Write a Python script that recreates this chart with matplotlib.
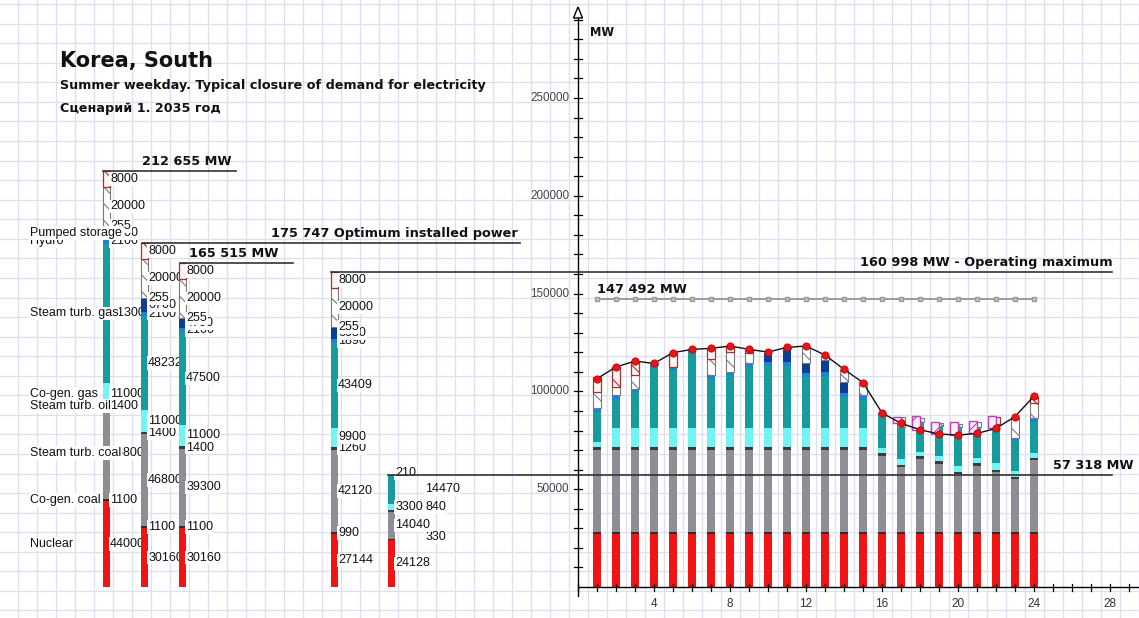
import numpy as np
import matplotlib
matplotlib.use("Agg")
import matplotlib.pyplot as plt
from matplotlib.patches import Polygon

# ------------------------------------------------------------------ data
layer_names = ["Nuclear", "Co-gen. coal", "Steam turb. coal", "Steam turb. oil",
               "Co-gen. gas", "Steam turb. gas", "Hydro", "Pumped storage",
               "Other", "Reserve", "Repair"]
shown_layer_labels = ["Nuclear", "Co-gen. coal", "Steam turb. coal", "Steam turb. oil",
                      "Co-gen. gas", "Steam turb. gas", "Hydro", "Pumped storage"]

balance_installed = [44000, 1100, 46800, 1400, 11000, 71300, 2100, 6700, 255, 20000, 8000]
balance_optimum = [30160, 1100, 46800, 1400, 11000, 48232, 2100, 6700, 255, 20000, 8000]
balance_reduced = [30160, 1100, 39300, 1400, 11000, 47500, 2100, 4700, 255, 20000, 8000]
balance_operating = [27144, 990, 42120, 1260, 9900, 43409, 1890, 6030, 255, 20000, 8000]
balance_minimum = [24128, 330, 14040, 840, 3300, 14470, 210, 0, 0, 0, 0]

ref_values = [212655, 175747, 165515, 160998, 147492, 57318]
ref_labels = ["212 655 MW", "175 747 Optimum installed power", "165 515 MW",
              "160 998 MW - Operating maximum", "147 492 MW", "57 318 MW"]

hours = np.arange(1, 25)
demand = [106500, 112500, 115500, 114300, 119800, 121500, 122000, 123200, 121500, 120100,
          122500, 123200, 118600, 111300, 104500, 89000, 83700, 80400, 78200, 77700,
          78500, 81100, 87100, 97600]
nuclear_h = [27144, 27144, 27144, 27144, 27144, 27144, 27144, 27144, 27144, 27144, 27144, 27144,
             27144, 27144, 27144, 27144, 27144, 27144, 27144, 27144, 27144, 27144, 27144, 27144]
cogen_coal_h = [990, 990, 990, 990, 990, 990, 990, 990, 990, 990, 990, 990,
                990, 990, 990, 990, 990, 990, 990, 990, 990, 990, 990, 990]
steam_coal_h = [42120, 42120, 42120, 42120, 42120, 42120, 42120, 42120, 42120, 42120, 42120, 42120,
                42120, 42120, 42120, 38900, 33200, 37400, 34900, 29600, 33800, 30600, 27000, 36800]
steam_oil_h = [1260, 1260, 1260, 1260, 1260, 1260, 1260, 1260, 1260, 1260, 1260, 1260,
               1260, 1260, 1260, 1260, 1260, 1260, 1260, 1260, 1260, 1260, 1260, 1260]
cogen_gas_h = [2700, 9900, 9900, 9900, 9900, 9900, 9900, 9900, 9900, 9900, 9900, 9900,
               9900, 9900, 9900, 2800, 2800, 2400, 2700, 2900, 2900, 3400, 2900, 2300]
steam_gas_h = [15500, 14900, 18200, 30300, 29400, 38600, 25100, 26800, 31500, 32000, 31500, 26100,
               26600, 15900, 14000, 16500, 16200, 15000, 15500, 19700, 15500, 20000, 15400, 16000]
hydro_h = [1700, 1700, 1700, 1700, 1700, 1500, 1700, 1700, 1400, 1700, 2000, 1700,
           2000, 1700, 2000, 0, 0, 0, 0, 0, 0, 0, 1700, 1700]
pumped_h = [0, 0, 0, 0, 0, 0, 0, 0, 0, 4300, 6900, 5100,
            6000, 6000, 1000, 0, 0, 0, 0, 0, 0, 0, 0, 0]
reserve_h = [8100, 4300, 6900, 1000, 0, 0, 8600, 10300, 5200, 0, 700, 8500,
             2000, 6000, 6300, 1400, 5200, 2000, 1200, 1800, 2600, 0, 10400, 8000]
repair_h = [7700, 10300, 7200, 0, 6900, 0, 4800, 2900, 1500, 0, 0, 0,
            0, 0, 0, 0, 0, 0, 0, 0, 0, 3400, 0, 3100]
pumping_load_h = [0, 0, 0, 0, 0, 0, 0, 0, 0, 0, 0, 0,
                  0, 0, 0, 0, 3400, 7000, 6000, 6500, 6300, 6400, 0, 0]
ytick_values = [50000, 100000, 150000, 200000, 250000]
xtick_values = [4, 8, 12, 16, 20, 24, 28]

# ------------------------------------------------------------------ layout helpers
W, H = 1139, 618
X0, PXH = 578.0, 19.0          # pixel of hour 0, pixels per hour
Y0, PXM = 587.0, 0.001956      # pixel of 0 MW, pixels per MW


def X(px):
    return (px - X0) / PXH


def Y(py):
    return (Y0 - py) / PXM


def DY(dpx):
    return dpx / PXM


colors = {
    "Nuclear": "#f01414",
    "Co-gen. coal": "#2e2e2e",
    "Steam turb. coal": "#8e8e94",
    "Steam turb. oil": "#3c3c3c",
    "Co-gen. gas": "#72f4f4",
    "Steam turb. gas": "#169c9c",
    "Hydro": "#1f7fe0",
    "Pumped storage": "#0c3f94",
    "Other": "#7fb2e8",
}
plt.rcParams["hatch.linewidth"] = 0.8

fig = plt.figure(figsize=(W / 100, H / 100), dpi=100)
ax = fig.add_axes([0, 0, 1, 1])
ax.set_xlim(X(0), X(W))
ax.set_ylim(Y(H), Y(0))
ax.axis("off")

# background grid
for k in range(-32, 31):
    ax.axvline(k + 0.5, color="#dedef0", lw=0.9, zorder=0)
for v in range(-12000, 300001, 10000):
    ax.axhline(v, color="#dedef0", lw=0.9, zorder=0)

lab_font = dict(family=["Liberation Sans", "DejaVu Sans"], fontsize=9, color="#111111")
bold_font = dict(family=["DejaVu Sans"], fontweight="bold", color="#111111")
white_box = dict(boxstyle="square,pad=0.06", fc="white", ec="none")


def draw_segment(ax, x, bottom, h, name, width, z):
    if h <= 0:
        return
    if name == "Reserve":
        ax.bar(x, h, width, bottom, color="white", edgecolor="#7a7a7a", hatch="\\\\",
               lw=0.8, zorder=z)
    elif name == "Repair":
        ax.bar(x, h, width, bottom, color="#fff4f4", edgecolor="#a83232", hatch="\\",
               lw=0.9, zorder=z)
    else:
        ax.bar(x, h, width, bottom, color=colors[name], lw=0, zorder=z)


# ------------------------------------------------------------------ left balance bars
balances = [balance_installed, balance_optimum, balance_reduced, balance_operating, balance_minimum]
bar_x = [-24.8, -22.8, -20.8, -12.8, -9.8]
bw = 0.35
label_shift = {4: [(0, 0), (30, -2), (0, 0), (30, -4), (0, 0), (30, 0), (0, -2)]}

z = 10
for bi, (xb, vals) in enumerate(zip(bar_x, balances)):
    bottoms = np.concatenate([[0], np.cumsum(vals)[:-1]])
    for name, b, h in zip(layer_names, bottoms, vals):
        draw_segment(ax, xb, b, h, name, bw, z)
    for li, (b, h) in enumerate(zip(bottoms, vals)):
        if h <= 0:
            continue
        dxp, dyp = (0, 0)
        if bi in label_shift and li < len(label_shift[bi]):
            dxp, dyp = label_shift[bi][li]
        ax.text(xb + bw / 2 + dxp / PXH, b + h / 2 - DY(dyp), f"{h}", ha="left", va="center",
                bbox=white_box, zorder=z + 1, **lab_font)
    if bi == 0:
        for li, name in enumerate(shown_layer_labels):
            ax.text(X(30), bottoms[li] + vals[li] / 2, name, ha="left", va="center",
                    bbox=white_box, zorder=z + 2, **lab_font)
    z += 3

# ------------------------------------------------------------------ hourly bars
hw = 0.42
hour_layers = [("Nuclear", nuclear_h), ("Co-gen. coal", cogen_coal_h),
               ("Steam turb. coal", steam_coal_h), ("Steam turb. oil", steam_oil_h),
               ("Co-gen. gas", cogen_gas_h), ("Steam turb. gas", steam_gas_h),
               ("Hydro", hydro_h), ("Pumped storage", pumped_h),
               ("Reserve", reserve_h), ("Repair", repair_h)]
bottom = np.zeros(len(hours))
for name, vals in hour_layers:
    vals = np.asarray(vals, dtype=float)
    for hx, b, h in zip(hours, bottom, vals):
        draw_segment(ax, hx, b, h, name, hw, 30)
    bottom += vals

pump = np.asarray(pumping_load_h, dtype=float)
dem = np.asarray(demand, dtype=float)
m = pump > 0
ax.bar(hours[m] - 0.22, pump[m], hw, dem[m], color="#fbeefb", edgecolor="#c040b8",
       hatch="/", lw=1.0, zorder=31)

# ------------------------------------------------------------------ reference lines
line_col = "#333333"
ref_spans = [(103, 236), (142, 520), (180, 293), (331, 1112), None, (388, 1112)]
ref_text_pos = [(142, "left"), (518, "right"), (189, "left"), (1113, "right"),
                (597, "left"), (1053, "left")]
for val, lab, span, (tx, ha) in zip(ref_values, ref_labels, ref_spans, ref_text_pos):
    if span is None:
        ax.plot(hours, np.full(len(hours), val), color="#9a9a9a", lw=1.4, marker="s", ms=2.6,
                mfc="#c4c4c4", mec="#9a9a9a", zorder=40)
    else:
        ax.plot([X(span[0]), X(span[1])], [val, val], color=line_col, lw=1.2, zorder=40)
    ax.text(X(tx), val + DY(3), lab, ha=ha, va="bottom", fontsize=9.3, zorder=41, **bold_font)

# demand curve
ax.plot(hours, demand, color="#111111", lw=1.0, zorder=42)
ax.plot(hours, demand, "o", color="#e8141c", ms=5.2, mec="#c80000", mew=0.6, zorder=43)

# ------------------------------------------------------------------ axes
ax.plot([0, 0], [Y(596), Y(14)], color="black", lw=1.0, zorder=45)
ax.add_patch(Polygon([(X(578), Y(7)), (X(573.5), Y(18)), (X(582.5), Y(18))], closed=True,
                     fc="white", ec="black", lw=1.0, zorder=46))
for v in range(10000, 290001, 10000):
    ax.plot([X(574), X(582)], [v, v], color="black", lw=0.9, zorder=45)
for v in ytick_values:
    ax.text(X(569), v, f"{v}", ha="right", va="center", fontsize=8.4,
            family=["Liberation Sans", "DejaVu Sans"], color="#444444", zorder=45)
ax.text(X(590), Y(32), "MW", ha="left", va="center", fontsize=8.3, zorder=45, **bold_font)

ax.plot([0, X(1139)], [0, 0], color="black", lw=1.0, zorder=45)
for hx in range(0, 30):
    ax.plot([hx, hx], [Y(584), Y(591)], color="black", lw=0.9, zorder=45)
for hx in xtick_values:
    ax.text(hx, Y(604), f"{hx}", ha="center", va="center", fontsize=8.5,
            family=["Liberation Sans", "DejaVu Sans"], color="#333333", zorder=45)

# ------------------------------------------------------------------ titles
fig.text(60 / W, 1 - 66.5 / H, "Korea, South", ha="left", va="baseline", fontsize=15, **bold_font)
fig.text(60 / W, 1 - 88.5 / H, "Summer weekday. Typical closure of demand for electricity",
         ha="left", va="baseline", fontsize=9.2, **bold_font)
fig.text(60 / W, 1 - 112 / H, "Сценарий 1. 2035 год", ha="left", va="baseline",
         fontsize=9.2, **bold_font)

fig.savefig("out.png", dpi=100, facecolor="white")
